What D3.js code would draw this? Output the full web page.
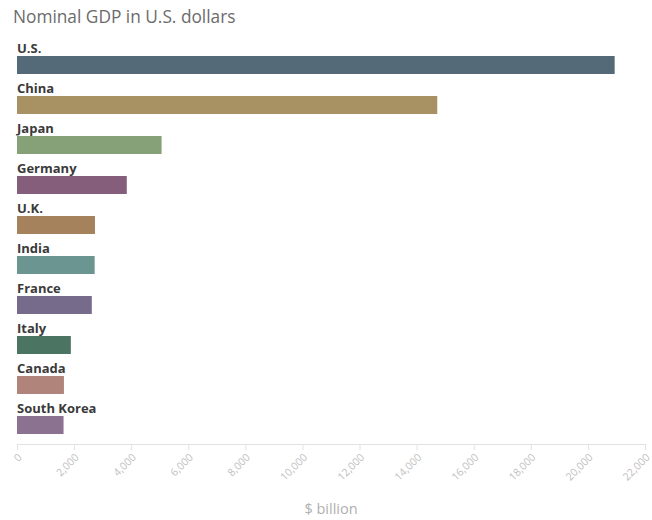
<!DOCTYPE html>
<html>
<head>
<meta charset="utf-8">
<script src="https://cdn.jsdelivr.net/npm/d3@7"></script>
<style>
  html, body { margin: 0; padding: 0; background: #fff; }
  svg { display: block; }
</style>
</head>
<body>
<svg id="chart" width="652" height="520"></svg>
<script>
// Nominal GDP, $ billion
const countries = ["U.S.", "China", "Japan", "Germany", "U.K.", "India", "France", "Italy", "Canada", "South Korea"];
const gdp = [20937, 14723, 5065, 3846, 2732, 2720, 2620, 1886, 1644, 1631];
const barColors = ["#556a78", "#a89162", "#86a077", "#845e7b", "#a5815c", "#6a9590", "#766b8b", "#4b7463", "#b0837b", "#8b7291"];
const tickValues = [0, 2000, 4000, 6000, 8000, 10000, 12000, 14000, 16000, 18000, 20000, 22000];

const svg = d3.select("#chart");
const font = "'Open Sans', Lato, sans-serif";

const x = d3.scaleLinear().domain([0, 22000]).range([17, 645]);
const y = d3.scaleBand().domain(countries).range([36, 436]).paddingInner(0).paddingOuter(0);

// title
svg.append("text")
  .attr("x", 13).attr("y", 23)
  .attr("font-family", font).attr("font-size", 17.3)
  .attr("fill", "#6b6b6b")
  .text("Nominal GDP in U.S. dollars");

const rows = svg.append("g").selectAll("g")
  .data(countries.map((c, i) => ({ c, v: gdp[i], col: barColors[i] })))
  .join("g");

rows.append("rect")
  .attr("x", x(0))
  .attr("y", d => y(d.c) + 20)
  .attr("width", d => x(d.v) - x(0))
  .attr("height", 18)
  .attr("fill", d => d.col);

rows.append("text")
  .attr("x", 17)
  .attr("y", d => y(d.c) + 17)
  .attr("font-family", font).attr("font-weight", "bold").attr("font-size", 13)
  .attr("fill", "#3a3a3a")
  .text(d => d.c);

// x axis
const axis = svg.append("g")
  .attr("transform", "translate(0,444)")
  .call(d3.axisBottom(x).tickValues(tickValues).tickSize(6).tickFormat(d3.format(",")));
axis.select(".domain").attr("stroke", "#e2e2e2");
axis.selectAll(".tick line").attr("stroke", "#e2e2e2");
axis.selectAll(".tick text")
  .attr("font-family", font).attr("font-size", 10.5)
  .attr("fill", "#c0c0c0")
  .attr("text-anchor", "end")
  .attr("dy", null)
  .attr("y", 0)
  .attr("transform", "translate(5,14) rotate(-45)");

svg.append("text")
  .attr("x", 331).attr("y", 514)
  .attr("text-anchor", "middle")
  .attr("font-family", font).attr("font-size", 14.5)
  .attr("fill", "#b0b0b0")
  .text("$ billion");
</script>
</body>
</html>
